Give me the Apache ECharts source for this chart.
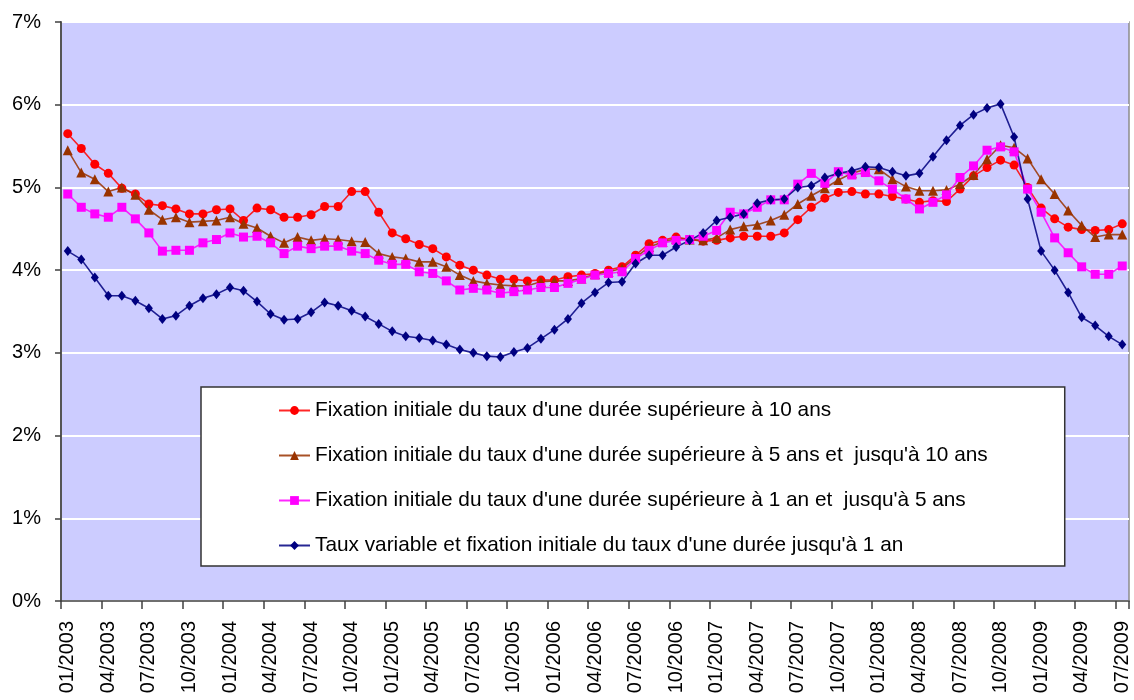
<!DOCTYPE html>
<html>
<head>
<meta charset="utf-8">
<script src="https://cdn.jsdelivr.net/npm/echarts@6/dist/echarts.min.js"></script>
<style>
  html, body { margin: 0; padding: 0; background: #fff; }
  #container { width: 1134px; height: 700px; }
</style>
</head>
<body>
<div id="container"></div>
<script>
var dom = document.getElementById("container");
var myChart = echarts.init(dom);

// mois de 01/2003 a 07/2009
var months = [
  "01/2003", "02/2003", "03/2003", "04/2003", "05/2003", "06/2003", "07/2003", "08/2003", "09/2003", "10/2003", "11/2003", "12/2003",
  "01/2004", "02/2004", "03/2004", "04/2004", "05/2004", "06/2004", "07/2004", "08/2004", "09/2004", "10/2004", "11/2004", "12/2004",
  "01/2005", "02/2005", "03/2005", "04/2005", "05/2005", "06/2005", "07/2005", "08/2005", "09/2005", "10/2005", "11/2005", "12/2005",
  "01/2006", "02/2006", "03/2006", "04/2006", "05/2006", "06/2006", "07/2006", "08/2006", "09/2006", "10/2006", "11/2006", "12/2006",
  "01/2007", "02/2007", "03/2007", "04/2007", "05/2007", "06/2007", "07/2007", "08/2007", "09/2007", "10/2007", "11/2007", "12/2007",
  "01/2008", "02/2008", "03/2008", "04/2008", "05/2008", "06/2008", "07/2008", "08/2008", "09/2008", "10/2008", "11/2008", "12/2008",
  "01/2009", "02/2009", "03/2009", "04/2009", "05/2009", "06/2009", "07/2009"
];

var names = [
  "Fixation initiale du taux d'une durée supérieure à 10 ans",
  "Fixation initiale du taux d'une durée supérieure à 5 ans et  jusqu'à 10 ans",
  "Fixation initiale du taux d'une durée supérieure à 1 an et  jusqu'à 5 ans",
  "Taux variable et fixation initiale du taux d'une durée jusqu'à 1 an"
];

var plus10ans = [
  5.65, 5.47, 5.28, 5.17, 4.99, 4.92, 4.80, 4.78, 4.74, 4.68, 4.68, 4.73,
  4.74, 4.60, 4.75, 4.73, 4.64, 4.64, 4.67, 4.77, 4.77, 4.95, 4.95, 4.70,
  4.45, 4.38, 4.31, 4.26, 4.16, 4.06, 4.00, 3.94, 3.89, 3.89, 3.87, 3.88,
  3.88, 3.92, 3.94, 3.96, 4.00, 4.04, 4.18, 4.32, 4.36, 4.40, 4.37, 4.35,
  4.36, 4.39, 4.41, 4.41, 4.41, 4.45, 4.61, 4.76, 4.87, 4.94, 4.95, 4.92,
  4.92, 4.89, 4.86, 4.82, 4.84, 4.83, 4.98, 5.14, 5.24, 5.33, 5.27, 5.00,
  4.75, 4.62, 4.52, 4.49, 4.48, 4.49, 4.56
];

var de5a10ans = [
  5.45, 5.18, 5.10, 4.95, 5.00, 4.91, 4.73, 4.61, 4.64, 4.58, 4.59, 4.60,
  4.64, 4.56, 4.51, 4.41, 4.33, 4.40, 4.36, 4.38, 4.37, 4.35, 4.34, 4.20,
  4.16, 4.14, 4.10, 4.10, 4.04, 3.94, 3.87, 3.84, 3.82, 3.81, 3.81, 3.86,
  3.87, 3.87, 3.90, 3.95, 3.98, 4.02, 4.15, 4.28, 4.34, 4.38, 4.37, 4.36,
  4.39, 4.49, 4.53, 4.55, 4.60, 4.67, 4.80, 4.90, 4.99, 5.09, 5.17, 5.22,
  5.22, 5.10, 5.01, 4.96, 4.96, 4.97, 5.04, 5.15, 5.34, 5.51, 5.48, 5.35,
  5.10, 4.92, 4.72, 4.54, 4.40, 4.43, 4.43
];

var de1a5ans = [
  4.92, 4.76, 4.68, 4.64, 4.76, 4.62, 4.45, 4.23, 4.24, 4.24, 4.33, 4.37,
  4.45, 4.40, 4.41, 4.33, 4.20, 4.29, 4.26, 4.29, 4.29, 4.23, 4.20, 4.12,
  4.07, 4.07, 3.98, 3.96, 3.87, 3.76, 3.78, 3.76, 3.72, 3.74, 3.76, 3.79,
  3.79, 3.84, 3.89, 3.94, 3.96, 3.98, 4.14, 4.24, 4.33, 4.36, 4.37, 4.41,
  4.48, 4.70, 4.68, 4.76, 4.85, 4.85, 5.04, 5.17, 5.05, 5.19, 5.15, 5.18,
  5.08, 4.98, 4.86, 4.74, 4.82, 4.91, 5.12, 5.26, 5.45, 5.49, 5.43, 4.98,
  4.70, 4.39, 4.21, 4.04, 3.95, 3.95, 4.05
];

var variable1an = [
  4.23, 4.13, 3.91, 3.69, 3.69, 3.63, 3.54, 3.41, 3.45, 3.57, 3.66, 3.71,
  3.79, 3.75, 3.62, 3.47, 3.40, 3.41, 3.49, 3.61, 3.57, 3.51, 3.44, 3.35,
  3.26, 3.20, 3.18, 3.15, 3.10, 3.04, 3.00, 2.96, 2.95, 3.01, 3.06, 3.17,
  3.28, 3.41, 3.60, 3.73, 3.85, 3.86, 4.08, 4.18, 4.18, 4.28, 4.36, 4.45,
  4.60, 4.64, 4.68, 4.81, 4.85, 4.86, 5.00, 5.02, 5.12, 5.17, 5.20, 5.25,
  5.24, 5.19, 5.14, 5.17, 5.37, 5.57, 5.75, 5.88, 5.96, 6.01, 5.61, 4.86,
  4.23, 4.00, 3.73, 3.43, 3.33, 3.20, 3.10
];

var font = "Liberation Sans, Arial, sans-serif";

function serie(name, data, color, symbol, size) {
  return {
    name: name,
    type: "line",
    data: data,
    symbol: symbol,
    symbolSize: size,
    showSymbol: true,
    showAllSymbol: true,
    lineStyle: { color: color, width: 1.6, opacity: 0.85 },
    itemStyle: { color: color, borderWidth: 0 },
    emphasis: { disabled: true },
    animation: false
  };
}

var option = {
  backgroundColor: "#ffffff",
  grid: {
    left: 61,
    right: 5,
    top: 22,
    bottom: 99,
    show: true,
    backgroundColor: "#CCCCFF",
    borderColor: "#8c8c8c",
    borderWidth: 1.5
  },
  legend: {
    orient: "vertical",
    left: 201,
    top: 387,
    padding: [13, 77, 10, 77],
    itemGap: 24,
    itemWidth: 31,
    itemHeight: 11,
    backgroundColor: "#ffffff",
    borderColor: "#333333",
    borderWidth: 1.5,
    borderRadius: 0,
    textStyle: { fontFamily: font, fontSize: 20.8, color: "#000", lineHeight: 20 },
    data: names
  },
  xAxis: {
    type: "category",
    boundaryGap: true,
    data: months,
    axisLine: { lineStyle: { color: "#404040", width: 1.5 } },
    axisTick: { show: true, interval: 2, length: 8, lineStyle: { color: "#404040", width: 1.5 } },
    axisLabel: {
      interval: 2,
      rotate: 90,
      margin: 20,
      fontFamily: font,
      fontSize: 20,
      color: "#000"
    },
    splitLine: { show: false }
  },
  yAxis: {
    type: "value",
    min: 0,
    max: 7,
    interval: 1,
    axisLine: { show: true, lineStyle: { color: "#555555", width: 2 } },
    axisTick: { show: true, length: 6, lineStyle: { color: "#404040", width: 1.5 } },
    axisLabel: {
      formatter: "{value}%",
      margin: 20,
      fontFamily: font,
      fontSize: 20,
      color: "#000"
    },
    splitLine: { show: true, lineStyle: { color: "#ffffff", width: 2 } }
  },
  series: [
    serie(names[0], plus10ans, "#FF0000", "circle", 9),
    serie(names[1], de5a10ans, "#993300", "triangle", 10),
    serie(names[2], de1a5ans, "#FF00FF", "rect", 9),
    serie(names[3], variable1an, "#000080", "diamond", [8, 10])
  ]
};

if (option && typeof option === "object") {
  myChart.setOption(option);
}
</script>
</body>
</html>
